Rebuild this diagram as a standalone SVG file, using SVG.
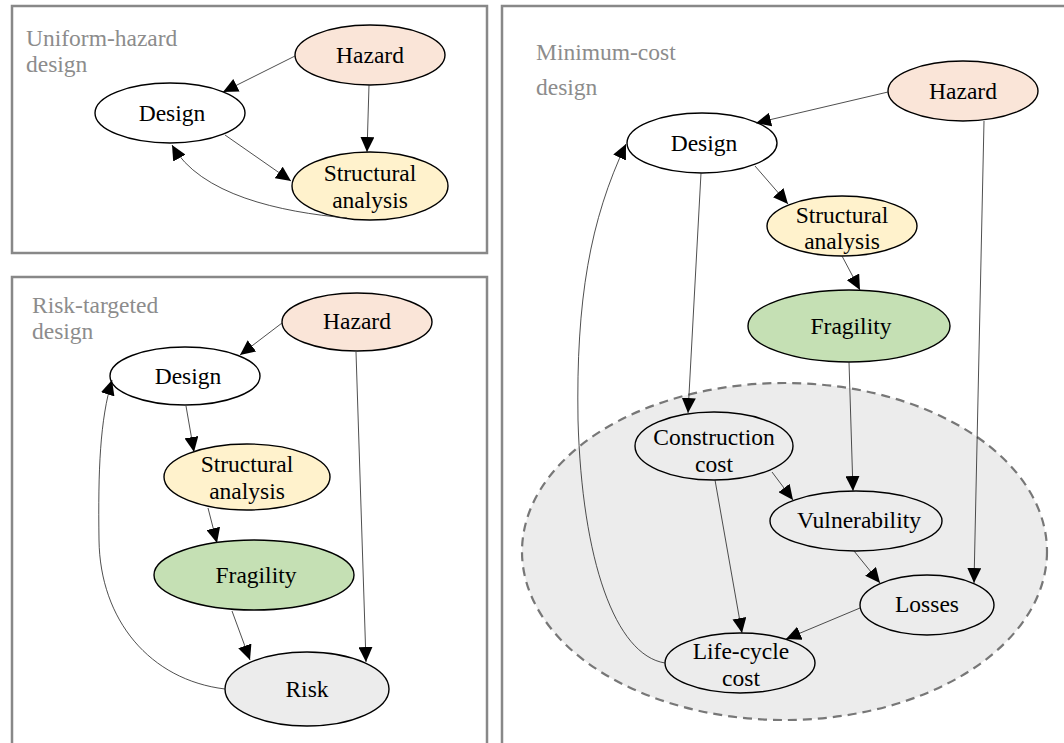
<svg xmlns="http://www.w3.org/2000/svg" width="1064" height="743" viewBox="0 0 1064 743">
<style>
.panel{fill:#fff;stroke:#888;stroke-width:2.5}
.title{font-family:"Liberation Serif","Times New Roman",serif;font-size:23.5px;fill:#8c8c8c}
.node ellipse{stroke:#000;stroke-width:1.4}
.node text{font-family:"Liberation Serif","Times New Roman",serif;font-size:23.5px;fill:#000;text-anchor:middle}
.edge{fill:none;stroke:#222;stroke-width:0.8;marker-end:url(#ah)}
.hazard{fill:#fae5d8}
.design{fill:#fff}
.sa{fill:#fff2cc}
.frag{fill:#c5e0b4}
.grey{fill:#ececec}
</style>
<defs>
<marker id="ah" markerUnits="userSpaceOnUse" viewBox="0 0 15 14" markerWidth="15" markerHeight="14" refX="15" refY="7" orient="auto">
<path d="M0,0 L15,7 L0,14 Z" fill="#000"/>
</marker>
</defs>
<rect width="1064" height="743" fill="#fff"/>
<rect class="panel" x="12" y="6" width="475" height="247"/>
<rect class="panel" x="12" y="277" width="475" height="470"/>
<rect class="panel" x="502" y="6" width="570" height="745"/>
<g id="titles">
<text class="title" x="26" y="46">Uniform-hazard</text>
<text class="title" x="26" y="72">design</text>
<text class="title" x="32" y="313">Risk-targeted</text>
<text class="title" x="32" y="339">design</text>
<text class="title" x="536" y="60">Minimum-cost</text>
<text class="title" x="536" y="95">design</text>
</g>
<ellipse id="cost-group" cx="784.5" cy="551.5" rx="262.5" ry="168.5" fill="#ececec" stroke="#777" stroke-width="2.2" stroke-dasharray="9,6"/>
<g id="p1-hazard" class="node"><ellipse class="hazard" cx="370" cy="55" rx="75" ry="30"/><text x="370" y="63">Hazard</text></g>
<g id="p1-design" class="node"><ellipse class="design" cx="170" cy="113" rx="75" ry="30"/><text x="172" y="121">Design</text></g>
<g id="p1-sa" class="node"><ellipse class="sa" cx="370" cy="186" rx="78" ry="34"/><text x="370" y="181">Structural</text><text x="370" y="208">analysis</text></g>
<g id="p2-hazard" class="node"><ellipse class="hazard" cx="357" cy="322" rx="75" ry="29"/><text x="357" y="329">Hazard</text></g>
<g id="p2-design" class="node"><ellipse class="design" cx="185" cy="376" rx="75" ry="29"/><text x="188" y="384">Design</text></g>
<g id="p2-sa" class="node"><ellipse class="sa" cx="247" cy="477" rx="83" ry="33"/><text x="247" y="472">Structural</text><text x="247" y="499">analysis</text></g>
<g id="p2-fragility" class="node"><ellipse class="frag" cx="254" cy="575" rx="100" ry="35"/><text x="256" y="583">Fragility</text></g>
<g id="p2-risk" class="node"><ellipse class="grey" cx="307" cy="689" rx="82" ry="37"/><text x="307" y="697">Risk</text></g>
<g id="p3-hazard" class="node"><ellipse class="hazard" cx="963" cy="91" rx="75" ry="30"/><text x="963" y="99">Hazard</text></g>
<g id="p3-design" class="node"><ellipse class="design" cx="702" cy="143" rx="75" ry="30"/><text x="704" y="151">Design</text></g>
<g id="p3-sa" class="node"><ellipse class="sa" cx="842" cy="226" rx="75" ry="30"/><text x="842" y="223">Structural</text><text x="842" y="249">analysis</text></g>
<g id="p3-fragility" class="node"><ellipse class="frag" cx="849" cy="326" rx="101" ry="36"/><text x="851" y="334">Fragility</text></g>
<g id="p3-construction" class="node"><ellipse class="grey" cx="714" cy="446" rx="79" ry="34"/><text x="714" y="445">Construction</text><text x="714" y="472">cost</text></g>
<g id="p3-vulnerability" class="node"><ellipse class="grey" cx="856" cy="521" rx="86" ry="30"/><text x="859" y="528">Vulnerability</text></g>
<g id="p3-losses" class="node"><ellipse class="grey" cx="927" cy="605" rx="67" ry="30"/><text x="927" y="612">Losses</text></g>
<g id="p3-lifecycle" class="node"><ellipse class="grey" cx="740" cy="663" rx="75" ry="30"/><text x="741" y="659">Life-cycle</text><text x="741" y="686">cost</text></g>
<g id="connectors">
<path class="edge" d="M295,56 L223,92"/>
<path class="edge" d="M369,85 L367,152"/>
<path class="edge" d="M225,135 L291,181"/>
<path class="edge" d="M347,218 C280,212 200,195 172,145"/>
<path class="edge" d="M282,323 L240,355"/>
<path class="edge" d="M186,406 L194,452"/>
<path class="edge" d="M208,508 L217,543"/>
<path class="edge" d="M232,611 L250,660"/>
<path class="edge" d="M356,352 L366,662"/>
<path class="edge" d="M225,689 C150,680 100,620 99,540 C98,470 100,420 112,380"/>
<path class="edge" d="M888,92 L756,123"/>
<path class="edge" d="M755,166 L788,204"/>
<path class="edge" d="M842,256 L860,290"/>
<path class="edge" d="M849,362 L853,491"/>
<path class="edge" d="M701,173 L688,413"/>
<path class="edge" d="M984,121 L974,583"/>
<path class="edge" d="M772,472 L793,500"/>
<path class="edge" d="M715,480 L742,633"/>
<path class="edge" d="M854,551 L880,583"/>
<path class="edge" d="M860,608 L786,639"/>
<path class="edge" d="M665,663 C615,655 582,560 578,420 C576,300 590,220 626,144"/>
</g>
</svg>
